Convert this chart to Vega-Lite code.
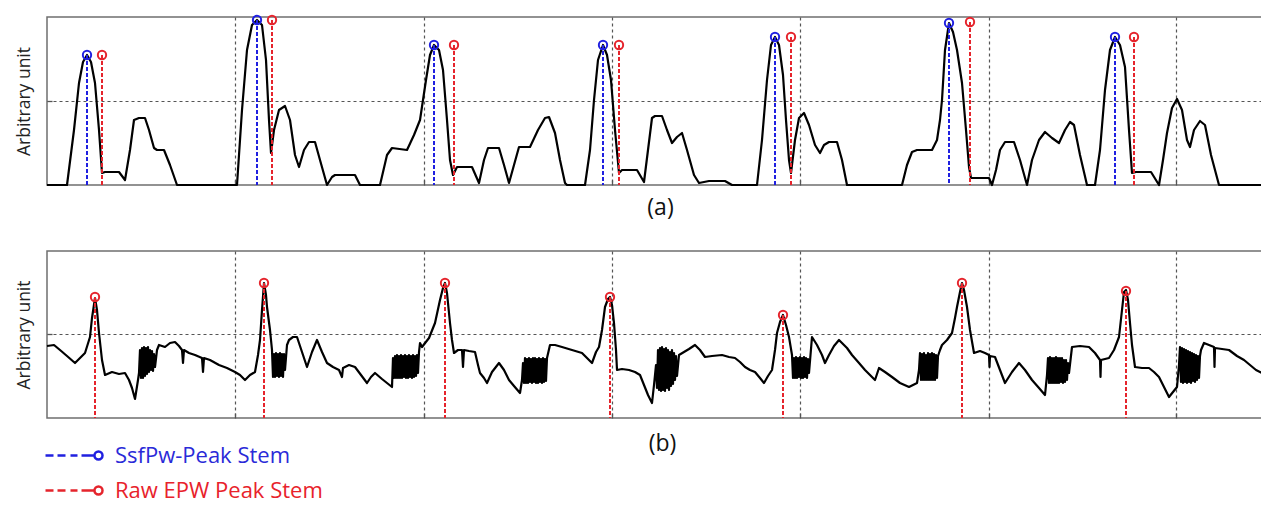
{
  "$schema": "https://vega.github.io/schema/vega-lite/v6.json",
  "background": "white",
  "padding": {"left": 14, "top": 11, "right": 0, "bottom": 0},
  "bounds": "flush",
  "spacing": 66,
  "config": {
    "view": {"stroke": "#6f6f6f", "strokeWidth": 1.5},
    "font": "Open Sans",
    "legend": {"orient": "none", "legendX": 11, "legendY": 422, "title": null,
      "symbolType": "M-1.933,0H-1.4M-1.133,0H-0.6M-0.267,0H0.2M0.467,0H1.333M1.867,0A0.267,0.267,0,1,1,1.333,0A0.267,0.267,0,1,1,1.867,0",
      "symbolSize": 900, "symbolStrokeWidth": 2.5, "symbolFillColor": "transparent",
      "labelFontSize": 22, "labelFont": "Open Sans", "labelLimit": 400, "labelOffset": 24, "rowPadding": 7}
  },
  "resolve": {"scale": {"x": "independent", "y": "independent", "color": "shared"}, "legend": {"color": "shared"}},
  "datasets": {
    "sigA": [{"t":0,"v":0},{"t":20,"v":0},{"t":27,"v":55},{"t":32,"v":102},{"t":36,"v":123},{"t":40,"v":130},{"t":44,"v":123},{"t":48,"v":102},{"t":52,"v":55},{"t":55,"v":12},{"t":58,"v":13},{"t":72,"v":13},{"t":78,"v":5},{"t":83,"v":35},{"t":87,"v":65},{"t":92,"v":67},{"t":98,"v":67},{"t":102,"v":55},{"t":107,"v":37},{"t":110,"v":35},{"t":117,"v":35},{"t":123,"v":20},{"t":130,"v":0},{"t":190,"v":0},{"t":195,"v":75},{"t":200,"v":135},{"t":205,"v":160},{"t":210,"v":165},{"t":215,"v":160},{"t":219,"v":125},{"t":222,"v":65},{"t":224,"v":32},{"t":227,"v":55},{"t":232,"v":75},{"t":238,"v":79},{"t":243,"v":65},{"t":248,"v":30},{"t":252,"v":18},{"t":257,"v":35},{"t":262,"v":43},{"t":268,"v":43},{"t":273,"v":25},{"t":280,"v":0},{"t":285,"v":8},{"t":288,"v":10},{"t":308,"v":10},{"t":313,"v":0},{"t":333,"v":0},{"t":340,"v":30},{"t":345,"v":37},{"t":360,"v":35},{"t":367,"v":50},{"t":373,"v":65},{"t":379,"v":105},{"t":383,"v":130},{"t":387,"v":140},{"t":392,"v":135},{"t":396,"v":115},{"t":400,"v":65},{"t":403,"v":25},{"t":406,"v":10},{"t":410,"v":18},{"t":425,"v":18},{"t":432,"v":2},{"t":437,"v":25},{"t":441,"v":37},{"t":452,"v":37},{"t":457,"v":20},{"t":462,"v":2},{"t":467,"v":20},{"t":472,"v":38},{"t":483,"v":38},{"t":491,"v":55},{"t":498,"v":67},{"t":502,"v":68},{"t":508,"v":52},{"t":513,"v":25},{"t":518,"v":2},{"t":520,"v":0},{"t":538,"v":0},{"t":543,"v":35},{"t":547,"v":85},{"t":551,"v":125},{"t":556,"v":140},{"t":560,"v":130},{"t":564,"v":105},{"t":568,"v":55},{"t":572,"v":12},{"t":575,"v":15},{"t":590,"v":15},{"t":597,"v":3},{"t":601,"v":35},{"t":605,"v":67},{"t":608,"v":69},{"t":615,"v":69},{"t":620,"v":55},{"t":625,"v":42},{"t":630,"v":48},{"t":635,"v":52},{"t":640,"v":35},{"t":647,"v":10},{"t":652,"v":2},{"t":662,"v":4},{"t":678,"v":4},{"t":685,"v":0},{"t":710,"v":0},{"t":715,"v":45},{"t":720,"v":105},{"t":724,"v":140},{"t":728,"v":148},{"t":732,"v":140},{"t":736,"v":110},{"t":739,"v":65},{"t":742,"v":25},{"t":744,"v":12},{"t":748,"v":45},{"t":752,"v":67},{"t":757,"v":72},{"t":762,"v":60},{"t":768,"v":40},{"t":773,"v":32},{"t":777,"v":40},{"t":782,"v":43},{"t":790,"v":43},{"t":795,"v":25},{"t":800,"v":0},{"t":855,"v":0},{"t":860,"v":20},{"t":865,"v":33},{"t":870,"v":35},{"t":885,"v":35},{"t":890,"v":45},{"t":893,"v":65},{"t":895,"v":85},{"t":898,"v":135},{"t":902,"v":162},{"t":906,"v":153},{"t":910,"v":135},{"t":915,"v":102},{"t":919,"v":55},{"t":922,"v":18},{"t":924,"v":7},{"t":942,"v":7},{"t":945,"v":0},{"t":949,"v":15},{"t":953,"v":35},{"t":958,"v":43},{"t":967,"v":43},{"t":973,"v":25},{"t":980,"v":0},{"t":985,"v":25},{"t":992,"v":45},{"t":998,"v":53},{"t":1005,"v":47},{"t":1012,"v":42},{"t":1018,"v":55},{"t":1023,"v":63},{"t":1027,"v":60},{"t":1033,"v":30},{"t":1040,"v":0},{"t":1048,"v":0},{"t":1053,"v":35},{"t":1058,"v":95},{"t":1063,"v":135},{"t":1068,"v":148},{"t":1073,"v":140},{"t":1078,"v":118},{"t":1082,"v":55},{"t":1085,"v":12},{"t":1089,"v":13},{"t":1104,"v":13},{"t":1112,"v":0},{"t":1116,"v":25},{"t":1120,"v":52},{"t":1125,"v":77},{"t":1130,"v":86},{"t":1135,"v":75},{"t":1140,"v":45},{"t":1143,"v":38},{"t":1147,"v":55},{"t":1153,"v":64},{"t":1158,"v":60},{"t":1164,"v":30},{"t":1172,"v":0},{"t":1215,"v":0}],
    "stemsA": [
      {"t":40,"v":130,"series":"SsfPw-Peak Stem"},{"t":210,"v":165,"series":"SsfPw-Peak Stem"},{"t":387,"v":140,"series":"SsfPw-Peak Stem"},{"t":556,"v":140,"series":"SsfPw-Peak Stem"},{"t":728,"v":148,"series":"SsfPw-Peak Stem"},{"t":902,"v":162,"series":"SsfPw-Peak Stem"},{"t":1068,"v":148,"series":"SsfPw-Peak Stem"},
      {"t":55,"v":130,"series":"Raw EPW Peak Stem"},{"t":225,"v":165,"series":"Raw EPW Peak Stem"},{"t":407,"v":140,"series":"Raw EPW Peak Stem"},{"t":572,"v":140,"series":"Raw EPW Peak Stem"},{"t":744,"v":148,"series":"Raw EPW Peak Stem"},{"t":923,"v":163,"series":"Raw EPW Peak Stem"},{"t":1087,"v":148,"series":"Raw EPW Peak Stem"}
    ],
    "sigB": [{"t":0,"v":72},{"t":7,"v":73},{"t":13,"v":68},{"t":20,"v":62},{"t":28,"v":55},{"t":33,"v":60},{"t":38,"v":65},{"t":43,"v":81},{"t":45,"v":100},{"t":48,"v":120},{"t":50,"v":108},{"t":52,"v":85},{"t":55,"v":58},{"t":58,"v":43},{"t":65,"v":46},{"t":72,"v":44},{"t":78,"v":45},{"t":82,"v":38},{"t":85,"v":30},{"t":88,"v":19},{"t":91,"v":38},{"t":92,"v":45},{"t":93,"v":68},{"t":94,"v":40},{"t":95,"v":70},{"t":96,"v":40},{"t":97,"v":71},{"t":98,"v":42},{"t":99,"v":70},{"t":100,"v":44},{"t":101,"v":71},{"t":102,"v":46},{"t":103,"v":68},{"t":104,"v":48},{"t":105,"v":67},{"t":106,"v":47},{"t":107,"v":64},{"t":108,"v":51},{"t":110,"v":68},{"t":112,"v":73},{"t":115,"v":72},{"t":118,"v":71},{"t":123,"v":75},{"t":128,"v":76},{"t":132,"v":72},{"t":135,"v":68},{"t":136,"v":55},{"t":137,"v":68},{"t":142,"v":65},{"t":148,"v":63},{"t":155,"v":60},{"t":156,"v":46},{"t":157,"v":60},{"t":163,"v":58},{"t":172,"v":53},{"t":180,"v":50},{"t":188,"v":46},{"t":193,"v":43},{"t":198,"v":38},{"t":203,"v":43},{"t":208,"v":46},{"t":211,"v":63},{"t":213,"v":78},{"t":215,"v":108},{"t":217,"v":135},{"t":219,"v":123},{"t":220,"v":111},{"t":223,"v":88},{"t":225,"v":68},{"t":226,"v":41},{"t":227,"v":64},{"t":228,"v":41},{"t":229,"v":65},{"t":230,"v":42},{"t":231,"v":64},{"t":232,"v":41},{"t":233,"v":65},{"t":234,"v":42},{"t":235,"v":64},{"t":236,"v":41},{"t":237,"v":64},{"t":238,"v":48},{"t":240,"v":73},{"t":242,"v":78},{"t":246,"v":81},{"t":250,"v":81},{"t":255,"v":66},{"t":260,"v":51},{"t":265,"v":66},{"t":270,"v":78},{"t":275,"v":66},{"t":280,"v":55},{"t":286,"v":51},{"t":292,"v":48},{"t":295,"v":41},{"t":296,"v":50},{"t":302,"v":53},{"t":308,"v":51},{"t":314,"v":43},{"t":320,"v":35},{"t":324,"v":41},{"t":328,"v":45},{"t":335,"v":39},{"t":340,"v":35},{"t":345,"v":31},{"t":346,"v":60},{"t":347,"v":40},{"t":348,"v":62},{"t":349,"v":40},{"t":350,"v":63},{"t":351,"v":40},{"t":352,"v":62},{"t":353,"v":40},{"t":354,"v":63},{"t":355,"v":40},{"t":356,"v":62},{"t":357,"v":41},{"t":358,"v":63},{"t":359,"v":40},{"t":360,"v":62},{"t":361,"v":40},{"t":362,"v":63},{"t":363,"v":41},{"t":364,"v":62},{"t":365,"v":40},{"t":366,"v":63},{"t":367,"v":41},{"t":368,"v":62},{"t":369,"v":42},{"t":370,"v":63},{"t":371,"v":45},{"t":372,"v":66},{"t":373,"v":75},{"t":375,"v":71},{"t":382,"v":80},{"t":388,"v":95},{"t":393,"v":118},{"t":396,"v":130},{"t":398,"v":135},{"t":400,"v":125},{"t":403,"v":95},{"t":405,"v":78},{"t":407,"v":65},{"t":411,"v":68},{"t":415,"v":68},{"t":416,"v":51},{"t":417,"v":68},{"t":422,"v":67},{"t":428,"v":66},{"t":431,"v":53},{"t":433,"v":45},{"t":437,"v":40},{"t":440,"v":35},{"t":445,"v":46},{"t":452,"v":55},{"t":457,"v":48},{"t":462,"v":38},{"t":467,"v":32},{"t":473,"v":25},{"t":475,"v":38},{"t":476,"v":55},{"t":477,"v":35},{"t":478,"v":60},{"t":479,"v":35},{"t":480,"v":59},{"t":481,"v":35},{"t":482,"v":60},{"t":483,"v":36},{"t":484,"v":59},{"t":485,"v":35},{"t":486,"v":60},{"t":487,"v":36},{"t":488,"v":60},{"t":489,"v":35},{"t":490,"v":59},{"t":491,"v":35},{"t":492,"v":60},{"t":493,"v":36},{"t":494,"v":59},{"t":495,"v":35},{"t":496,"v":60},{"t":497,"v":36},{"t":498,"v":59},{"t":499,"v":37},{"t":500,"v":60},{"t":503,"v":73},{"t":508,"v":73},{"t":515,"v":71},{"t":525,"v":68},{"t":535,"v":65},{"t":540,"v":60},{"t":545,"v":55},{"t":549,"v":66},{"t":552,"v":71},{"t":555,"v":88},{"t":558,"v":111},{"t":561,"v":119},{"t":563,"v":121},{"t":565,"v":113},{"t":567,"v":95},{"t":569,"v":68},{"t":570,"v":48},{"t":575,"v":49},{"t":582,"v":48},{"t":588,"v":46},{"t":593,"v":43},{"t":597,"v":33},{"t":601,"v":23},{"t":605,"v":15},{"t":607,"v":33},{"t":609,"v":53},{"t":610,"v":30},{"t":611,"v":68},{"t":612,"v":28},{"t":613,"v":70},{"t":614,"v":27},{"t":615,"v":71},{"t":616,"v":28},{"t":617,"v":69},{"t":618,"v":27},{"t":619,"v":70},{"t":620,"v":30},{"t":621,"v":68},{"t":622,"v":28},{"t":623,"v":66},{"t":624,"v":32},{"t":625,"v":68},{"t":626,"v":34},{"t":627,"v":65},{"t":628,"v":38},{"t":629,"v":62},{"t":630,"v":42},{"t":632,"v":63},{"t":637,"v":66},{"t":642,"v":69},{"t":648,"v":73},{"t":653,"v":68},{"t":658,"v":61},{"t":665,"v":62},{"t":675,"v":63},{"t":682,"v":61},{"t":688,"v":60},{"t":693,"v":56},{"t":698,"v":51},{"t":703,"v":48},{"t":708,"v":46},{"t":713,"v":40},{"t":717,"v":35},{"t":721,"v":42},{"t":725,"v":48},{"t":728,"v":68},{"t":730,"v":85},{"t":733,"v":96},{"t":736,"v":103},{"t":739,"v":93},{"t":742,"v":81},{"t":745,"v":63},{"t":746,"v":40},{"t":747,"v":60},{"t":748,"v":40},{"t":749,"v":61},{"t":750,"v":40},{"t":751,"v":60},{"t":752,"v":41},{"t":753,"v":61},{"t":754,"v":40},{"t":755,"v":60},{"t":756,"v":40},{"t":757,"v":61},{"t":758,"v":41},{"t":759,"v":60},{"t":760,"v":40},{"t":761,"v":59},{"t":762,"v":45},{"t":765,"v":81},{"t":770,"v":73},{"t":775,"v":63},{"t":778,"v":55},{"t":782,"v":63},{"t":787,"v":72},{"t":792,"v":78},{"t":795,"v":75},{"t":800,"v":70},{"t":805,"v":63},{"t":812,"v":55},{"t":818,"v":48},{"t":823,"v":43},{"t":828,"v":38},{"t":830,"v":44},{"t":832,"v":50},{"t":838,"v":46},{"t":845,"v":41},{"t":853,"v":35},{"t":862,"v":31},{"t":866,"v":33},{"t":870,"v":35},{"t":872,"v":48},{"t":873,"v":65},{"t":874,"v":38},{"t":875,"v":64},{"t":876,"v":38},{"t":877,"v":65},{"t":878,"v":38},{"t":879,"v":63},{"t":880,"v":38},{"t":881,"v":65},{"t":882,"v":38},{"t":883,"v":64},{"t":884,"v":38},{"t":885,"v":65},{"t":886,"v":38},{"t":887,"v":64},{"t":888,"v":38},{"t":889,"v":63},{"t":890,"v":40},{"t":891,"v":62},{"t":893,"v":68},{"t":895,"v":73},{"t":900,"v":78},{"t":905,"v":85},{"t":908,"v":100},{"t":910,"v":111},{"t":913,"v":126},{"t":915,"v":135},{"t":917,"v":128},{"t":920,"v":111},{"t":923,"v":88},{"t":927,"v":65},{"t":933,"v":67},{"t":938,"v":65},{"t":942,"v":63},{"t":942.5,"v":51},{"t":943,"v":62},{"t":948,"v":61},{"t":953,"v":48},{"t":958,"v":35},{"t":965,"v":46},{"t":972,"v":55},{"t":978,"v":48},{"t":985,"v":38},{"t":992,"v":30},{"t":998,"v":23},{"t":1000,"v":43},{"t":1001,"v":60},{"t":1002,"v":35},{"t":1003,"v":61},{"t":1004,"v":35},{"t":1005,"v":60},{"t":1006,"v":35},{"t":1007,"v":60},{"t":1008,"v":35},{"t":1009,"v":61},{"t":1010,"v":35},{"t":1011,"v":60},{"t":1012,"v":35},{"t":1013,"v":60},{"t":1014,"v":36},{"t":1015,"v":60},{"t":1016,"v":35},{"t":1017,"v":58},{"t":1018,"v":36},{"t":1019,"v":58},{"t":1020,"v":38},{"t":1021,"v":55},{"t":1022,"v":45},{"t":1025,"v":71},{"t":1033,"v":72},{"t":1042,"v":71},{"t":1048,"v":65},{"t":1053,"v":58},{"t":1053.5,"v":41},{"t":1054,"v":58},{"t":1058,"v":59},{"t":1062,"v":60},{"t":1067,"v":68},{"t":1072,"v":81},{"t":1075,"v":108},{"t":1077,"v":126},{"t":1079,"v":128},{"t":1081,"v":118},{"t":1083,"v":95},{"t":1085,"v":73},{"t":1088,"v":51},{"t":1095,"v":50},{"t":1102,"v":50},{"t":1107,"v":46},{"t":1112,"v":41},{"t":1117,"v":31},{"t":1122,"v":21},{"t":1126,"v":26},{"t":1130,"v":31},{"t":1132,"v":53},{"t":1133,"v":71},{"t":1134,"v":36},{"t":1135,"v":70},{"t":1136,"v":35},{"t":1137,"v":69},{"t":1138,"v":36},{"t":1139,"v":68},{"t":1140,"v":35},{"t":1141,"v":67},{"t":1142,"v":36},{"t":1143,"v":66},{"t":1144,"v":35},{"t":1145,"v":65},{"t":1146,"v":37},{"t":1147,"v":64},{"t":1148,"v":36},{"t":1149,"v":63},{"t":1150,"v":38},{"t":1151,"v":62},{"t":1152,"v":40},{"t":1153,"v":62},{"t":1154,"v":68},{"t":1157,"v":75},{"t":1162,"v":73},{"t":1167,"v":71},{"t":1167.5,"v":51},{"t":1168,"v":70},{"t":1175,"v":69},{"t":1182,"v":68},{"t":1190,"v":62},{"t":1197,"v":58},{"t":1203,"v":53},{"t":1209,"v":48},{"t":1215,"v":45}],
    "stemsB": [
      {"t":48,"v":121,"series":"Raw EPW Peak Stem"},{"t":217,"v":135,"series":"Raw EPW Peak Stem"},{"t":398,"v":135,"series":"Raw EPW Peak Stem"},{"t":563,"v":121,"series":"Raw EPW Peak Stem"},{"t":736,"v":103,"series":"Raw EPW Peak Stem"},{"t":915,"v":135,"series":"Raw EPW Peak Stem"},{"t":1079,"v":127,"series":"Raw EPW Peak Stem"}
    ]
  },
  "vconcat": [
    {
      "width": 1215,
      "height": 168,
      "encoding": {
        "x": {"field": "t", "type": "quantitative", "scale": {"domain": [0, 1215], "nice": false, "zero": false},
          "axis": {"values": [188, 377, 565, 753, 942, 1129], "grid": true, "gridDash": [3, 3], "gridColor": "#555555", "gridWidth": 1.2, "labels": false, "domain": false, "ticks": true, "tickSize": -5, "tickColor": "#555555", "tickWidth": 1.3,
            "title": "(a)", "titleFontSize": 23, "titleFont": "Open Sans", "titleFontWeight": "normal", "titleColor": "#111111", "titleX": 613, "titleY": 11, "titleBaseline": "top", "titleAlign": "center"}},
        "y": {"field": "v", "type": "quantitative", "scale": {"domain": [0, 168], "nice": false, "zero": false},
          "axis": {"values": [84], "grid": true, "gridDash": [3, 3], "gridColor": "#555555", "gridWidth": 1.2, "labels": false, "domain": false, "ticks": true, "tickSize": -5, "tickColor": "#555555", "tickWidth": 1.3,
            "title": "Arbitrary unit", "titleFontSize": 17.5, "titleFont": "Open Sans", "titleFontWeight": "normal", "titleColor": "#222222", "titleAngle": 270, "titleBaseline": "middle", "titleAlign": "center", "titleX": -23, "titleY": 84}}
      },
      "layer": [
        {"data": {"name": "sigA"}, "mark": {"type": "line", "color": "#000000", "strokeWidth": 2.2, "strokeJoin": "round"}},
        {"data": {"name": "stemsA"}, "mark": {"type": "rule", "strokeDash": [4, 2], "strokeWidth": 2},
          "encoding": {"y2": {"datum": 0},
            "color": {"field": "series", "type": "nominal", "scale": {"domain": ["SsfPw-Peak Stem", "Raw EPW Peak Stem"], "range": ["#2020e0", "#e5242c"]},
              "legend": {"labelColor": {"expr": "datum.value === 'SsfPw-Peak Stem' ? '#2a2ad8' : '#e8222b'"},
                "encode": {"symbols": {"update": {"strokeDash": {"value": []}, "fill": {"value": "transparent"}}}}}}}},
        {"data": {"name": "stemsA"}, "mark": {"type": "point", "filled": false, "size": 70, "strokeWidth": 2, "opacity": 1},
          "encoding": {
            "color": {"field": "series", "type": "nominal", "scale": {"domain": ["SsfPw-Peak Stem", "Raw EPW Peak Stem"], "range": ["#2020e0", "#e5242c"]},
              "legend": {"labelColor": {"expr": "datum.value === 'SsfPw-Peak Stem' ? '#2a2ad8' : '#e8222b'"},
                "encode": {"symbols": {"update": {"strokeDash": {"value": []}, "fill": {"value": "transparent"}}}}}}}}
      ]
    },
    {
      "width": 1215,
      "height": 167,
      "encoding": {
        "x": {"field": "t", "type": "quantitative", "scale": {"domain": [0, 1215], "nice": false, "zero": false},
          "axis": {"values": [188, 377, 565, 753, 942, 1129], "grid": true, "gridDash": [3, 3], "gridColor": "#555555", "gridWidth": 1.2, "labels": false, "domain": false, "ticks": true, "tickSize": -5, "tickColor": "#555555", "tickWidth": 1.3,
            "title": "(b)", "titleFontSize": 23, "titleFont": "Open Sans", "titleFontWeight": "normal", "titleColor": "#111111", "titleX": 615, "titleY": 14, "titleBaseline": "top", "titleAlign": "center"}},
        "y": {"field": "v", "type": "quantitative", "scale": {"domain": [0, 167], "nice": false, "zero": false},
          "axis": {"values": [84], "grid": true, "gridDash": [3, 3], "gridColor": "#555555", "gridWidth": 1.2, "labels": false, "domain": false, "ticks": true, "tickSize": -5, "tickColor": "#555555", "tickWidth": 1.3,
            "title": "Arbitrary unit", "titleFontSize": 17.5, "titleFont": "Open Sans", "titleFontWeight": "normal", "titleColor": "#222222", "titleAngle": 270, "titleBaseline": "middle", "titleAlign": "center", "titleX": -23, "titleY": 83.5}}
      },
      "layer": [
        {"data": {"name": "sigB"}, "mark": {"type": "line", "color": "#000000", "strokeWidth": 2.2, "strokeJoin": "round"}},
        {"data": {"name": "stemsB"}, "mark": {"type": "rule", "strokeDash": [4, 2], "strokeWidth": 2},
          "encoding": {"y2": {"datum": 0},
            "color": {"field": "series", "type": "nominal", "scale": {"domain": ["SsfPw-Peak Stem", "Raw EPW Peak Stem"], "range": ["#2020e0", "#e5242c"]},
              "legend": {"labelColor": {"expr": "datum.value === 'SsfPw-Peak Stem' ? '#2a2ad8' : '#e8222b'"},
                "encode": {"symbols": {"update": {"strokeDash": {"value": []}, "fill": {"value": "transparent"}}}}}}}},
        {"data": {"name": "stemsB"}, "mark": {"type": "point", "filled": false, "size": 70, "strokeWidth": 2, "opacity": 1},
          "encoding": {
            "color": {"field": "series", "type": "nominal", "scale": {"domain": ["SsfPw-Peak Stem", "Raw EPW Peak Stem"], "range": ["#2020e0", "#e5242c"]},
              "legend": {"labelColor": {"expr": "datum.value === 'SsfPw-Peak Stem' ? '#2a2ad8' : '#e8222b'"},
                "encode": {"symbols": {"update": {"strokeDash": {"value": []}, "fill": {"value": "transparent"}}}}}}}}
      ]
    }
  ]
}
